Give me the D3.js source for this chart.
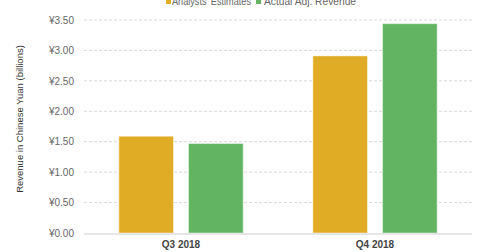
<!DOCTYPE html>
<html>
<head>
<meta charset="utf-8">
<script src="https://cdn.jsdelivr.net/npm/d3@7"></script>
<style>
  body { margin: 0; background: #fff; }
  svg { font-family: Arial, "Liberation Sans", sans-serif; }
</style>
</head>
<body>
<div id="chart"></div>
<script>
// chart data
const quarters = ["Q3 2018", "Q4 2018"];
const seriesNames = ["Analysts' Estimates", "Actual Adj. Revenue"];
const estimates = [1.59, 2.91];
const actuals = [1.47, 3.44];
const yTicks = [0, 0.5, 1, 1.5, 2, 2.5, 3, 3.5];
const colors = ["#e1ac25", "#62b462"];

const width = 480, height = 252;
const margin = {top: 20, right: 8, bottom: 19, left: 84};
const innerW = width - margin.left - margin.right;
const innerH = height - margin.top - margin.bottom;

const svg = d3.select("#chart").append("svg")
    .attr("width", width)
    .attr("height", height);

const g = svg.append("g")
    .attr("transform", `translate(${margin.left},${margin.top})`);

const x = d3.scaleBand().domain(quarters).range([0, innerW]);
const xInner = d3.scaleBand().domain(seriesNames)
    .range([0, x.bandwidth()]).paddingInner(0.216).paddingOuter(0.5);
const y = d3.scaleLinear().domain([0, 3.5]).range([innerH, 0]);

// gridlines
g.append("g")
    .selectAll("line")
    .data(yTicks.filter(d => d > 0))
    .join("line")
    .attr("x1", 0).attr("x2", innerW)
    .attr("y1", d => y(d)).attr("y2", d => y(d))
    .attr("stroke", "#d9d9d9")
    .attr("stroke-dasharray", "3,2");

// y axis labels
const yAxis = d3.axisLeft(y).tickValues(yTicks)
    .tickFormat(d => "¥" + d3.format(".2f")(d))
    .tickSize(0).tickPadding(10);
g.append("g").call(yAxis)
    .call(s => s.select(".domain").remove())
    .selectAll("text")
    .attr("fill", "#666")
    .attr("font-size", "10px");

// bars
const rows = quarters.map((q, i) => ({q: q, vals: [estimates[i], actuals[i]]}));
g.selectAll(".grp")
    .data(rows)
    .join("g")
    .attr("class", "grp")
    .attr("transform", d => `translate(${x(d.q)},0)`)
    .selectAll("rect")
    .data(d => d.vals.map((v, j) => ({name: seriesNames[j], v: v, c: colors[j]})))
    .join("rect")
    .attr("x", d => xInner(d.name))
    .attr("width", xInner.bandwidth())
    .attr("y", d => y(d.v))
    .attr("height", d => innerH - y(d.v))
    .attr("fill", d => d.c)
    .attr("stroke", "rgba(255,255,255,0.45)")
    .attr("stroke-width", 1);

// x axis baseline
g.append("line")
    .attr("x1", 0).attr("x2", innerW)
    .attr("y1", innerH + 1).attr("y2", innerH + 1)
    .attr("stroke", "#e6e6e6")
    .attr("stroke-width", 2);

const xAxis = d3.axisBottom(x).tickSize(0).tickPadding(8);
g.append("g")
    .attr("transform", `translate(0,${innerH})`)
    .call(xAxis)
    .call(s => s.select(".domain").remove())
    .selectAll("text")
    .attr("fill", "#444")
    .attr("font-size", "10px")
    .attr("font-weight", "bold");

// y axis title
svg.append("text")
    .text("Revenue in Chinese Yuan (billions)")
    .attr("transform", "translate(23,119) rotate(-90)")
    .attr("text-anchor", "middle")
    .attr("fill", "#333")
    .attr("font-size", "9.5px");

// legend (partly cut off at top, as in the original)
const legendX = [166, 256];
const legendLen = [79, 92];
const legend = svg.append("g");
seriesNames.forEach((name, i) => {
    legend.append("rect")
        .attr("x", legendX[i]).attr("y", -1)
        .attr("width", 5).attr("height", 5)
        .attr("fill", colors[i]);
    legend.append("text")
        .attr("x", legendX[i] + (i === 0 ? 6 : 8)).attr("y", 4.5)
        .text(name)
        .attr("textLength", legendLen[i])
        .attr("lengthAdjust", "spacingAndGlyphs")
        .attr("fill", "#666")
        .attr("font-size", "10px");
});
</script>
</body>
</html>
